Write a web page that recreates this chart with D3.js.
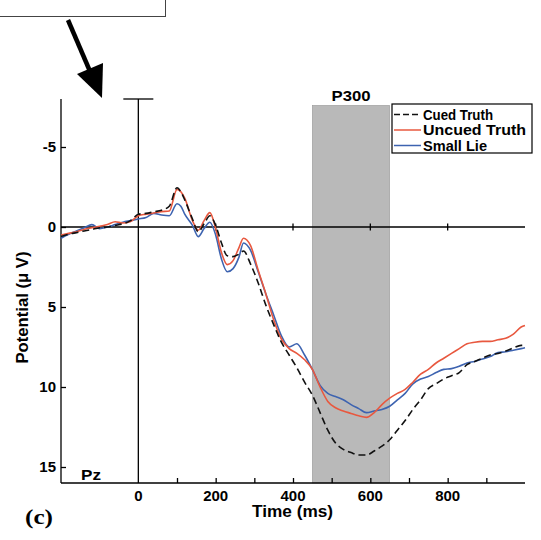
<!DOCTYPE html>
<html>
<head>
<meta charset="utf-8">
<script src="https://cdn.jsdelivr.net/npm/d3@7"></script>
<style>
  html, body { margin: 0; padding: 0; background: #fff; }
  svg { display: block; }
  text { font-family: "Liberation Sans", Arial, sans-serif; font-weight: bold; fill: #000; }
</style>
</head>
<body>
<svg id="chart" width="541" height="540"></svg>
<script>
// ---- data ----
const times = [-200,-180,-160,-140,-120,-100,-80,-60,-40,-20,0,20,40,60,80,100,110,120,140,155,170,185,200,215,230,245,260,272,290,310,330,350,370,390,410,430,450,470,490,510,530,550,570,590,610,630,650,670,690,710,730,750,770,790,810,830,850,870,890,910,930,950,970,990,1000];
const cuedTruth = [0.6,0.45,0.35,0.25,0.15,0.05,0.0,-0.1,-0.2,-0.4,-0.8,-0.85,-0.95,-1.05,-1.3,-2.45,-2.2,-1.7,-0.5,0.3,-0.2,-0.7,-0.1,1.0,1.8,1.85,1.7,1.5,2.3,3.5,4.9,6.1,7.2,8.0,8.8,9.7,10.5,11.6,12.7,13.5,13.9,14.1,14.25,14.25,14.0,13.7,13.3,12.7,12.1,11.4,10.8,10.1,9.8,9.5,9.3,9.1,8.6,8.4,8.2,8.0,7.9,7.75,7.55,7.4,7.4];
const uncuedTruth = [0.5,0.4,0.3,0.15,0.05,-0.05,-0.15,-0.33,-0.25,-0.35,-0.7,-0.8,-0.88,-0.96,-1.0,-2.35,-2.2,-1.8,-0.4,0.2,-0.4,-0.9,0.1,1.6,2.35,2.1,1.3,0.7,1.15,2.7,4.2,5.8,7.0,7.6,7.9,8.3,8.9,10.0,10.9,11.3,11.5,11.65,11.8,11.9,11.6,11.1,10.7,10.4,10.15,9.7,9.2,8.9,8.5,8.2,7.9,7.6,7.3,7.2,7.15,7.15,7.05,6.95,6.7,6.25,6.15];
const smallLie = [0.7,0.45,0.25,0.05,-0.15,0.1,0.0,-0.15,-0.3,-0.4,-0.5,-0.6,-0.85,-0.75,-0.7,-1.45,-1.3,-0.8,-0.1,0.6,0.1,-0.3,0.5,2.0,2.8,2.6,1.9,1.0,1.45,2.8,4.2,5.5,6.8,7.5,7.3,8.0,8.9,9.9,10.4,10.6,10.8,11.1,11.35,11.6,11.5,11.4,11.2,10.8,10.4,9.8,9.5,9.35,9.1,8.9,8.85,8.7,8.5,8.4,8.25,8.1,7.85,7.8,7.7,7.6,7.55];
const seriesNames = ["Cued Truth", "Uncued Truth", "Small Lie"];
const seriesColors = ["#111111", "#e8583f", "#3d63b0"];
const yTicks = [-5, 0, 5, 10, 15];
const xTickLabels = [0, 200, 400, 600, 800];
const xMinorTicks = [100, 200, 300, 400, 500, 600, 700, 800, 900];
const zeroLineTicks = [200, 400, 600, 800];
const p300Window = [450, 650];

// ---- layout ----
const svg = d3.select("#chart");
const x = d3.scaleLinear().domain([-200, 1000]).range([61, 525]);
const y = d3.scaleLinear().domain([-8, 16]).range([99, 483]);

// top-left box (cut off) and arrow
svg.append("rect").attr("x", -5).attr("y", -5).attr("width", 170.5).attr("height", 21.5)
  .attr("fill", "none").attr("stroke", "#444").attr("stroke-width", 1);
svg.append("line").attr("x1", 68).attr("y1", 20).attr("x2", 92).attr("y2", 76)
  .attr("stroke", "#000").attr("stroke-width", 4.5);
svg.append("path").attr("d", "M77,74 L103,63 L102,98 Z").attr("fill", "#000");

// P300 band
svg.append("rect")
  .attr("x", x(p300Window[0])).attr("width", x(p300Window[1]) - x(p300Window[0]))
  .attr("y", y(-7.6)).attr("height", y(16) - y(-7.6))
  .attr("fill", "#b9b9b9").attr("stroke", "#999").attr("stroke-width", 0.6);
svg.append("text").attr("x", (x(p300Window[0]) + x(p300Window[1])) / 2).attr("y", 101)
  .attr("text-anchor", "middle").style("font-size", "15px")
  .attr("textLength", 39).attr("lengthAdjust", "spacingAndGlyphs").text("P300");

// left y axis
const yAxis = d3.axisRight(y).tickValues(yTicks).tickSize(5).tickFormat("");
const gy = svg.append("g").attr("transform", `translate(${x(-200)},0)`).call(yAxis);
gy.select(".domain").attr("stroke", "#000").attr("stroke-width", 1.3).attr("d", `M0,${y(-8)}V${y(16)}`);
gy.selectAll(".tick line").attr("stroke", "#000").attr("stroke-width", 1.3);
svg.append("g").selectAll("text").data(yTicks).join("text")
  .attr("x", 56).attr("y", d => y(d)).attr("dy", "0.36em")
  .attr("text-anchor", "end").style("font-size", "15px").text(d => d);

// bottom x axis (ticks inward)
const xAxis = d3.axisTop(x).tickValues(xMinorTicks).tickSize(5).tickFormat("");
const gx = svg.append("g").attr("transform", `translate(0,${y(16)})`).call(xAxis);
gx.select(".domain").attr("stroke", "#000").attr("stroke-width", 1.3).attr("d", `M${x(-200)},0H${x(1000)}`);
gx.selectAll(".tick line").attr("stroke", "#000").attr("stroke-width", 1.3);
svg.append("g").selectAll("text").data(xTickLabels).join("text")
  .attr("x", d => x(d)).attr("y", 501).attr("text-anchor", "middle")
  .style("font-size", "15px").text(d => d);
svg.append("text").attr("x", 292.5).attr("y", 517).attr("text-anchor", "middle")
  .style("font-size", "16px").attr("textLength", 81).attr("lengthAdjust", "spacingAndGlyphs")
  .text("Time (ms)");

// zero line with crossing ticks
svg.append("line").attr("x1", x(-200)).attr("x2", x(1000)).attr("y1", y(0)).attr("y2", y(0))
  .attr("stroke", "#000").attr("stroke-width", 1.3);
svg.append("g").selectAll("line").data(zeroLineTicks).join("line")
  .attr("x1", d => x(d)).attr("x2", d => x(d)).attr("y1", y(0) - 3.5).attr("y2", y(0) + 3.5)
  .attr("stroke", "#000").attr("stroke-width", 1.3);

// stimulus onset line with cap
svg.append("line").attr("x1", x(0)).attr("x2", x(0)).attr("y1", y(-8)).attr("y2", y(16))
  .attr("stroke", "#000").attr("stroke-width", 1.3);
svg.append("line").attr("x1", x(0) - 15).attr("x2", x(0) + 15).attr("y1", y(-8)).attr("y2", y(-8))
  .attr("stroke", "#000").attr("stroke-width", 1.3);

// y label
svg.append("text").attr("transform", "translate(28,307.5) rotate(-90)")
  .attr("text-anchor", "middle").style("font-size", "16px")
  .attr("textLength", 112).attr("lengthAdjust", "spacingAndGlyphs")
  .text("Potential (\u03bc V)");

// curves
const line = d3.line().x((d, i) => x(times[i])).y(d => y(d)).curve(d3.curveMonotoneX);
const seriesData = [cuedTruth, uncuedTruth, smallLie];
const drawOrder = [2, 1, 0];
drawOrder.forEach(k => {
  svg.append("path").datum(seriesData[k]).attr("d", line)
    .attr("fill", "none").attr("stroke", seriesColors[k]).attr("stroke-width", 1.6)
    .attr("stroke-dasharray", k === 0 ? "7,4" : null);
});

// legend
const legendWidths = [70, 103, 64];
const lg = svg.append("g");
lg.append("rect").attr("x", 392).attr("y", 104).attr("width", 140).attr("height", 49)
  .attr("fill", "#fff").attr("stroke", "#000").attr("stroke-width", 1.2);
seriesNames.forEach((name, i) => {
  const cy = 114.5 + i * 15.5;
  lg.append("line").attr("x1", 394).attr("x2", 421).attr("y1", cy).attr("y2", cy)
    .attr("stroke", seriesColors[i]).attr("stroke-width", 1.5)
    .attr("stroke-dasharray", i === 0 ? "6,3" : null);
  lg.append("text").attr("x", 423).attr("y", cy).attr("dy", "0.36em")
    .style("font-size", "14px")
    .attr("textLength", legendWidths[i]).attr("lengthAdjust", "spacingAndGlyphs")
    .text(name);
});

// panel labels
svg.append("text").attr("x", 81).attr("y", 480).style("font-size", "15px")
  .attr("textLength", 20).attr("lengthAdjust", "spacingAndGlyphs").text("Pz");
svg.append("text").attr("x", 25).attr("y", 524)
  .style("font-family", "'Liberation Serif', 'Times New Roman', serif")
  .style("font-size", "22px").attr("textLength", 28).attr("lengthAdjust", "spacingAndGlyphs")
  .text("(c)");
</script>
</body>
</html>
